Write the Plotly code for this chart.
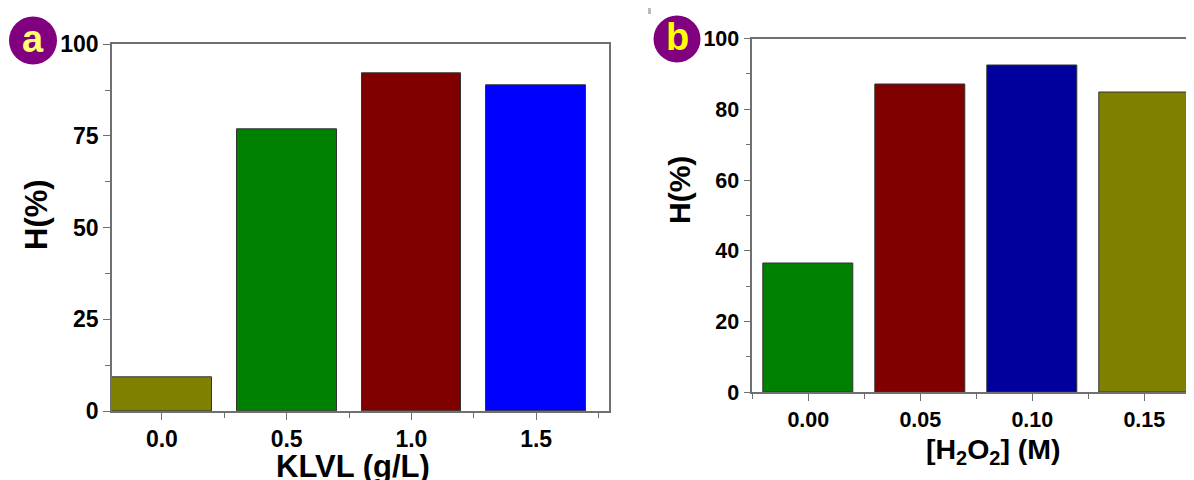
import plotly.graph_objects as go

# Panel a data
klvl_labels = ["0.0", "0.5", "1.0", "1.5"]
klvl_values = [9.2, 76.9, 92.1, 88.9]
klvl_colors = ["#808000", "#008000", "#800000", "#0000ff"]

# Panel b data
h2o2_labels = ["0.00", "0.05", "0.10", "0.15"]
h2o2_values = [36.4, 87.0, 92.4, 84.6]
h2o2_colors = ["#008000", "#800000", "#00009c", "#808000"]

ya_ticks = [0, 25, 50, 75, 100]
yb_ticks = [0, 20, 40, 60, 80, 100]

W, H = 1194, 480
OFF = 8  # page body margin offset
FONT = "Liberation Sans, Arial, sans-serif"
AXC = "#707070"

fig = go.Figure()
xa = list(range(len(klvl_labels)))
xb = list(range(len(h2o2_labels)))

fig.add_trace(go.Bar(x=xa, y=klvl_values, marker=dict(color=klvl_colors, line=dict(color="#333333", width=1)),
                     width=0.8, xaxis="x", yaxis="y", showlegend=False))
fig.add_trace(go.Bar(x=xb, y=h2o2_values, marker=dict(color=h2o2_colors, line=dict(color="#333333", width=1)),
                     width=0.8, xaxis="x2", yaxis="y2", showlegend=False))

def px_x(v):
    return (v - OFF) / W

def px_y(v):
    return (H - (v - OFF)) / H

def axis_common(size):
    return dict(showgrid=False, zeroline=False, showline=True, linecolor=AXC, linewidth=1.5,
                ticks="outside", ticklen=7, tickwidth=1.2, tickcolor=AXC, automargin=False,
                tickfont=dict(family=FONT, size=size, color="black", weight="bold"))

def minor(d):
    return dict(dtick=d, tick0=0, ticks="outside", ticklen=5, tickcolor=AXC, tickwidth=1.2)

fig.update_layout(
    template="none",
    width=W, height=H, margin=dict(l=0, r=0, t=0, b=0, autoexpand=False),
    paper_bgcolor="white", plot_bgcolor="white", bargap=0, showlegend=False,
    xaxis=dict(**axis_common(23), domain=[px_x(112), px_x(608.5)], range=[-0.4, 3.58],
               tickvals=xa, ticktext=klvl_labels, mirror=True, anchor="y", minor=minor(0.5)),
    yaxis=dict(**axis_common(23), domain=[px_y(411), px_y(44.3)], range=[0, 100],
               tickvals=ya_ticks, mirror=True, anchor="x", minor=minor(12.5)),
    xaxis2=dict(**axis_common(21.5), domain=[px_x(752.3), 1.0], range=[-0.5, 3.515],
                tickvals=xb, ticktext=h2o2_labels, mirror=True, anchor="y2", minor=minor(0.5)),
    yaxis2=dict(**axis_common(21.5), domain=[px_y(392.3), px_y(38.5)], range=[0, 100],
                tickvals=yb_ticks, mirror=False, anchor="x2", minor=minor(10)),
)

def label(text, x, y, size, angle=0):
    fig.add_annotation(text=text, x=px_x(x), y=px_y(y), xref="paper", yref="paper", textangle=angle,
                       xanchor="center", yanchor="middle", showarrow=False,
                       font=dict(family=FONT, size=size, color="black", weight="bold"))

# Axis titles
label("H(%)", 36, 215, 31, -90)
label("KLVL (g/L)", 353, 466, 31)
label("H(%)", 679, 190, 30, -90)
label("[H<sub>2</sub>O<sub>2</sub>] (M)", 993, 451, 28.5)

# Panel badges
for cx, cy, r, letter, col in [(33, 40.5, 24, "a", "#ffff70"), (677, 39, 23.5, "b", "#ffff00")]:
    fig.add_shape(type="circle", xref="paper", yref="paper",
                  x0=px_x(cx - r), x1=px_x(cx + r), y0=px_y(cy + r), y1=px_y(cy - r),
                  fillcolor="#800080", line=dict(width=0))
    fig.add_annotation(text=letter, x=px_x(cx), y=px_y(cy - 2), xref="paper", yref="paper", showarrow=False,
                       xanchor="center", yanchor="middle",
                       font=dict(family=FONT, size=38, color=col, weight="bold"))

# small gray mark near top
fig.add_shape(type="rect", xref="paper", yref="paper", x0=px_x(648), x1=px_x(651), y0=px_y(14), y1=px_y(7),
              fillcolor="#bbbbbb", line=dict(width=0))

fig.write_html("out.html")
